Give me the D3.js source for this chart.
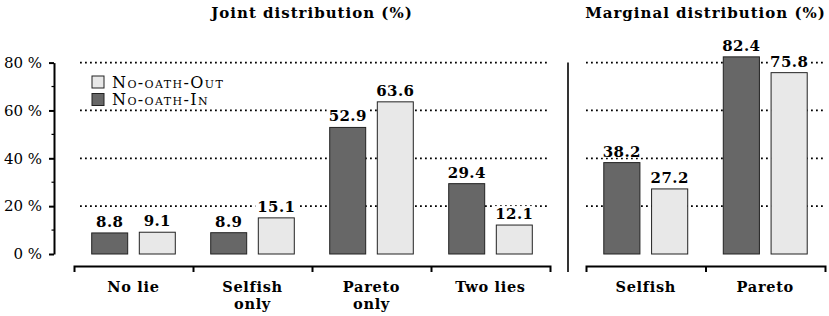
<!DOCTYPE html>
<html lang="en">
<head>
  <meta charset="UTF-8">
  <title>Joint and marginal distribution</title>
  <style>
    body { margin: 0; background: #fff; }
    svg { display: block; font-family: "DejaVu Serif", "Liberation Serif", serif; }
    .grid line { stroke: #000; stroke-width: 1.8; stroke-dasharray: 1.8 3.2; }
    .axis path, .axis line { stroke: #000; }
    .title { font-weight: bold; font-size: 15px; letter-spacing: 1px; }
    .cat { font-weight: bold; font-size: 14.5px; letter-spacing: 0.7px; }
    .val { font-weight: bold; font-size: 15px; letter-spacing: 0.4px; }
    .ytick { font-size: 15px; }
    .legend text { font-size: 16px; font-variant: small-caps; letter-spacing: 1.4px; }
  </style>
</head>
<body>
  <script src="https://d3js.org/d3.v7.min.js"></script>
  <script>
    // data
    const jointCats = ['No lie', 'Selfish only', 'Pareto only', 'Two lies'];
    const jointLines = [['No lie'], ['Selfish', 'only'], ['Pareto', 'only'], ['Two lies']];
    const margCats = ['Selfish', 'Pareto'];
    const series = ['No-oath-In', 'No-oath-Out'];
    const jointIn = [8.8, 8.9, 52.9, 29.4];
    const jointOut = [9.1, 15.1, 63.6, 12.1];
    const margIn = [38.2, 82.4];
    const margOut = [27.2, 75.8];
    const yTicks = [0, 20, 40, 60, 80];
    const yMinor = [10, 30, 50, 70];

    const W = 829, H = 316;
    const colors = { 'No-oath-In': '#676767', 'No-oath-Out': '#e8e8e8' };

    const svg = d3.select('body').append('svg')
      .attr('width', W).attr('height', H);

    const y = d3.scaleLinear().domain([0, 80]).range([254, 62.6]);

    // y axis
    const yAxis = svg.append('g').attr('class', 'axis')
      .attr('transform', 'translate(54,0)');
    yAxis.call(d3.axisLeft(y).tickValues(yTicks).tickSize(5).tickSizeOuter(0).tickFormat(''))
      .call(g => g.select('.domain').attr('stroke-width', 2))
      .call(g => g.selectAll('.tick line').attr('stroke-width', 2));
    yAxis.selectAll('.minor').data(yMinor).enter().append('line')
      .attr('x1', -2.5).attr('x2', 0)
      .attr('y1', d => y(d)).attr('y2', d => y(d))
      .attr('stroke', '#000').attr('stroke-width', 1.2);
    svg.selectAll('.ytick').data(yTicks).enter().append('text')
      .attr('class', 'ytick')
      .attr('x', 42).attr('y', d => y(d)).attr('dy', '0.35em')
      .attr('text-anchor', 'end')
      .text(d => d + ' %');

    function panel (cats, lines, inVals, outVals, x0, x1, gx0, gx1, title) {
      const g = svg.append('g');
      const x = d3.scaleBand().domain(cats).range([x0, x1]);
      const inner = d3.scaleBand().domain(series).range([0, x.bandwidth()])
        .paddingInner(0.244).paddingOuter(0.372);

      // grid
      g.append('g').attr('class', 'grid').selectAll('line')
        .data(yTicks.filter(d => d > 0)).enter().append('line')
        .attr('x1', gx0).attr('x2', gx1)
        .attr('y1', d => y(d)).attr('y2', d => y(d));

      const rows = [];
      cats.forEach((c, i) => {
        rows.push({ cat: c, s: 'No-oath-In', v: inVals[i] });
        rows.push({ cat: c, s: 'No-oath-Out', v: outVals[i] });
      });

      g.selectAll('rect.bar').data(rows).enter().append('rect')
        .attr('class', 'bar')
        .attr('x', d => x(d.cat) + inner(d.s))
        .attr('y', d => y(d.v))
        .attr('width', inner.bandwidth())
        .attr('height', d => y(0) - y(d.v))
        .attr('fill', d => colors[d.s])
        .attr('stroke', '#222').attr('stroke-width', 1);

      const labels = g.selectAll('g.val').data(rows).enter().append('g')
        .attr('class', 'val')
        .attr('transform', d => `translate(${x(d.cat) + inner(d.s) + inner.bandwidth() / 2},${y(d.v) - 6})`);
      labels.append('rect')
        .attr('x', -21).attr('y', -13).attr('width', 42).attr('height', 14)
        .attr('fill', '#fff');
      labels.append('text')
        .attr('text-anchor', 'middle')
        .text(d => d.v.toFixed(1));

      // bracket axis at the bottom
      const idx = d3.scaleLinear().domain([0, cats.length]).range([x0, x1]);
      g.append('g').attr('class', 'axis')
        .attr('transform', 'translate(0,266)')
        .call(d3.axisBottom(idx).tickValues(d3.range(1, cats.length)).tickSize(6).tickSizeOuter(6).tickFormat(''))
        .call(a => a.select('.domain').attr('stroke-width', 2))
        .call(a => a.selectAll('.tick line').attr('stroke-width', 2));

      const cl = g.selectAll('text.cat').data(cats).enter().append('text')
        .attr('class', 'cat')
        .attr('text-anchor', 'middle')
        .attr('x', d => x(d) + x.bandwidth() / 2)
        .attr('y', 292);
      cl.selectAll('tspan').data((d, i) => lines[i]).enter().append('tspan')
        .attr('x', function () { return d3.select(this.parentNode).attr('x'); })
        .attr('dy', (d, i) => i === 0 ? 0 : 17)
        .text(d => d);

      svg.append('text').attr('class', 'title')
        .attr('x', (x0 + x1) / 2).attr('y', 18)
        .attr('text-anchor', 'middle')
        .text(title);
    }

    panel(jointCats, jointLines, jointIn, jointOut, 74, 550, 80, 550, 'Joint distribution (%)');
    panel(margCats, margCats.map(d => [d]), margIn, margOut, 586, 825, 586, 825, 'Marginal distribution (%)');

    // separator between panels
    svg.append('line')
      .attr('x1', 568).attr('x2', 568)
      .attr('y1', y(80)).attr('y2', 272)
      .attr('stroke', '#000').attr('stroke-width', 1.6);

    // legend
    const legend = svg.append('g').attr('class', 'legend')
      .attr('transform', 'translate(92,76)');
    const legendItems = ['No-oath-Out', 'No-oath-In'];
    const li = legend.selectAll('g').data(legendItems).enter().append('g')
      .attr('transform', (d, i) => `translate(0,${i * 17.5})`);
    li.append('rect')
      .attr('width', 12).attr('height', 12)
      .attr('fill', d => colors[d]).attr('stroke', '#222').attr('stroke-width', 1);
    li.append('text')
      .attr('x', 20).attr('y', 6).attr('dy', '0.35em')
      .text(d => d);
  </script>
</body>
</html>
